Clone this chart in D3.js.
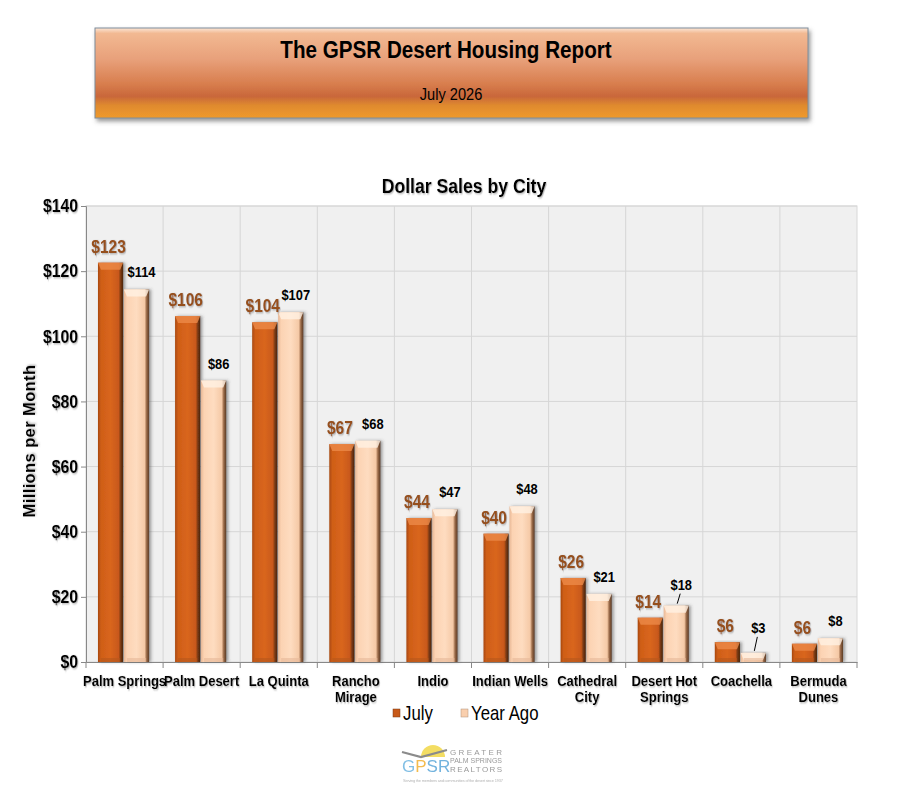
<!DOCTYPE html>
<html><head><meta charset="utf-8">
<script src="https://cdn.jsdelivr.net/npm/d3@7"></script>
<style>
html,body{margin:0;padding:0;background:#fff;}
svg{display:block;}
text{font-family:"Liberation Sans Narrow","Arial Narrow","Liberation Sans",Arial,sans-serif;font-weight:bold;}
</style></head>
<body>
<script>
const cities = ["Palm Springs","Palm Desert","La Quinta","Rancho Mirage","Indio","Indian Wells","Cathedral City","Desert Hot Springs","Coachella","Bermuda Dunes"];
const cityLines = [["Palm Springs"],["Palm Desert"],["La Quinta"],["Rancho","Mirage"],["Indio"],["Indian Wells"],["Cathedral","City"],["Desert Hot","Springs"],["Coachella"],["Bermuda","Dunes"]];
const julyValues = [122.6,106.2,104.3,66.9,44.2,39.4,25.8,13.6,6.1,5.6];
const yearAgoValues = [114.4,86.4,107.4,67.9,46.9,47.8,20.9,17.3,2.8,7.3];
const julyLabels = ["$123","$106","$104","$67","$44","$40","$26","$14","$6","$6"];
const yearAgoLabels = ["$114","$86","$107","$68","$47","$48","$21","$18","$3","$8"];
const yTicks = [0,20,40,60,80,100,120,140];
const seriesNames = ["July","Year Ago"];
const leaderLift = {"Desert Hot Springs":4,"Coachella":8};

const W=898,H=801;
const svg=d3.select("body").append("svg").attr("width",W).attr("height",H);
const defs=svg.append("defs");

// narrow text helper (condensed look via horizontal scale)
function ntext(parent,x,y,sx){
  return parent.append("g").attr("transform",`translate(${x},${y}) scale(${sx},1)`).append("text").attr("x",0).attr("y",0);
}

// header gradient
const hg=defs.append("linearGradient").attr("id","hdr").attr("x1",0).attr("y1",0).attr("x2",0).attr("y2",1);
[[0,"#fbe6d6"],[0.06,"#f2b992"],[0.35,"#e8a07a"],[0.62,"#d87e4e"],[0.76,"#c9673a"],[0.86,"#df8a2e"],[1,"#f09a2c"]].forEach(s=>hg.append("stop").attr("offset",s[0]).attr("stop-color",s[1]));
const hsh=defs.append("filter").attr("id","hshadow").attr("x","-5%").attr("y","-20%").attr("width","110%").attr("height","150%");
hsh.append("feDropShadow").attr("dx",2).attr("dy",3).attr("stdDeviation",2).attr("flood-color","#555").attr("flood-opacity",0.6);

// bar gradients
function hgrad(id,stops){const g=defs.append("linearGradient").attr("id",id).attr("x1",0).attr("y1",0).attr("x2",1).attr("y2",0);stops.forEach(s=>g.append("stop").attr("offset",s[0]).attr("stop-color",s[1]));}
hgrad("julyG",[[0,"#a8480e"],[0.12,"#cf5e18"],[0.5,"#d9661c"],[0.82,"#c8581a"],[0.9,"#7a3a14"],[1,"#4a240c"]]);
hgrad("yaG",[[0,"#e8b896"],[0.12,"#fcd3b3"],[0.5,"#fedcc0"],[0.82,"#f5c9a6"],[0.9,"#9a6a48"],[1,"#5a3a24"]]);
const bsh=defs.append("filter").attr("id","bshadow").attr("x","-20%").attr("y","-10%").attr("width","150%").attr("height","120%");
bsh.append("feDropShadow").attr("dx",2).attr("dy",0).attr("stdDeviation",1.5).attr("flood-color","#444").attr("flood-opacity",0.5);
const tsh=defs.append("filter").attr("id","tshadow").attr("x","-10%").attr("y","-10%").attr("width","130%").attr("height","140%");
tsh.append("feDropShadow").attr("dx",1).attr("dy",1).attr("stdDeviation",0.8).attr("flood-color","#666").attr("flood-opacity",0.55);

// header box
svg.append("rect").attr("x",95).attr("y",28).attr("width",713).attr("height",90).attr("fill","url(#hdr)").attr("stroke","#7f8c99").attr("stroke-width",1).attr("filter","url(#hshadow)");
ntext(svg,446,58,0.86).attr("text-anchor","middle").attr("font-size",24).attr("fill","#000").text("The GPSR Desert Housing Report");
ntext(svg,451,100,0.86).attr("text-anchor","middle").attr("font-size",17).style("font-weight","normal").attr("fill","#000").text("July 2026");

// chart
const m={l:86,r:857,t:206,b:662};
const x=d3.scaleBand().domain(cities).range([m.l,m.r]).paddingInner(0).paddingOuter(0);
const xs=d3.scaleBand().domain(seriesNames).range([0,x.bandwidth()]).paddingInner(0.03).paddingOuter(0.5);
const y=d3.scaleLinear().domain([0,140]).range([m.b,m.t]);

ntext(svg,464,193,0.84).attr("text-anchor","middle").attr("font-size",21).attr("fill","#000").attr("filter","url(#tshadow)").text("Dollar Sales by City");

svg.append("rect").attr("x",m.l).attr("y",m.t).attr("width",m.r-m.l).attr("height",m.b-m.t).attr("fill","#f0f0f0").attr("stroke","#d8d8d8");
// gridlines
svg.append("g").selectAll("line").data(yTicks.slice(1)).join("line")
 .attr("x1",m.l).attr("x2",m.r).attr("y1",d=>y(d)).attr("y2",d=>y(d)).attr("stroke","#d6d6d6");
svg.append("g").selectAll("line").data(cities.slice(1)).join("line")
 .attr("x1",d=>x(d)).attr("x2",d=>x(d)).attr("y1",m.t).attr("y2",m.b).attr("stroke","#d6d6d6");

// axes
const yAxis=svg.append("g").attr("transform",`translate(${m.l},0)`).call(d3.axisLeft(y).tickValues(yTicks).tickSize(5).tickFormat(d=>"$"+d));
yAxis.select(".domain").attr("stroke","#888");
yAxis.selectAll(".tick line").attr("stroke","#888");
yAxis.selectAll("text").attr("font-size",18).attr("fill","#000").attr("x",-9).attr("transform","scale(0.88,1)").attr("filter","url(#tshadow)");

const xAxis=svg.append("g").attr("transform",`translate(0,${m.b})`).call(d3.axisBottom(x).tickSize(0).tickFormat(""));
xAxis.select(".domain").attr("stroke","#888");
svg.append("g").selectAll("line").data(cities.concat(["__end"])).join("line")
 .attr("x1",(d,i)=>i<cities.length?x(d):m.r).attr("x2",(d,i)=>i<cities.length?x(d):m.r)
 .attr("y1",m.b).attr("y2",m.b+6).attr("stroke","#888");

// category labels
const cl=svg.append("g");
cities.forEach((c,i)=>{
  const t=ntext(cl,x(c)+x.bandwidth()/2,m.b+24,0.84).attr("text-anchor","middle").attr("font-size",15.5).attr("fill","#000").attr("filter","url(#tshadow)");
  cityLines[i].forEach((ln,j)=>t.append("tspan").attr("x",0).attr("dy",j?16:0).text(ln));
});

// bars
const data=cities.map((c,i)=>({c,v:[julyValues[i],yearAgoValues[i]],l:[julyLabels[i],yearAgoLabels[i]]}));
const grads=["url(#julyG)","url(#yaG)"];
const tops=["#ec8a48","#fff1e4"];
const bg=svg.append("g");
data.forEach(d=>{
  seriesNames.forEach((s,k)=>{
    const bx=x(d.c)+xs(s)-1, bw=xs.bandwidth(), by=y(d.v[k]), bh=m.b-by;
    const g=bg.append("g");
    g.append("rect").attr("x",bx).attr("y",by).attr("width",bw).attr("height",bh).attr("fill",grads[k]).attr("filter","url(#bshadow)");
    const cap=Math.min(7,bh);
    g.append("path").attr("d",`M${bx},${by}L${bx+bw},${by}L${bx+bw-3},${by+cap}L${bx+3},${by+cap}Z`).attr("fill",tops[k]).attr("opacity",0.8);
    if(bh>6) g.append("rect").attr("x",bx+3).attr("y",m.b-4).attr("width",bw-6).attr("height",4).attr("fill",k?"#e6b898":"#b5561a").attr("opacity",0.6);
  });
});

// labels
const lg=svg.append("g");
data.forEach(d=>{
  const bw=xs.bandwidth();
  const jx=x(d.c)+xs("July")+bw/2-3, jy=y(d.v[0])-10;
  ntext(lg,jx,jy,0.86).attr("text-anchor","middle").attr("font-size",18).attr("fill","#96501e").attr("filter","url(#tshadow)").text(d.l[0]);
  const lift=leaderLift[d.c]||0;
  const yx=x(d.c)+xs("Year Ago")+bw/2+4, yy=y(d.v[1])-12-lift;
  ntext(lg,yx,yy,0.86).attr("text-anchor","middle").attr("font-size",15).attr("fill","#000").text(d.l[1]);
  if(lift){
    lg.append("line").attr("x1",yx-1).attr("y1",yy+4).attr("x2",yx-4).attr("y2",y(d.v[1])-2).attr("stroke","#000").attr("stroke-width",1);
  }
});

// y axis title
svg.append("text").attr("transform","translate(35,441) rotate(-90)").attr("text-anchor","middle").attr("font-size",16.5)
 .style("font-family","'Liberation Sans',Arial,sans-serif").style("letter-spacing","0.4px").attr("fill","#000").attr("filter","url(#tshadow)").text("Millions per Month");

// legend
const legX=[393,461];
const legFill=["#c85a18","#f9cfae"];
seriesNames.forEach((s,k)=>{
  svg.append("rect").attr("x",legX[k]).attr("y",709).attr("width",7).attr("height",8).attr("fill",legFill[k]).attr("stroke",k?"#b0907a":"#7a3a14").attr("stroke-width",0.5);
  ntext(svg,legX[k]+10,720,0.84).attr("font-size",20).style("font-weight","normal").attr("fill","#000").text(s);
});

// logo
const logo=svg.append("g").attr("opacity",0.85);
logo.append("path").attr("d","M421,757 A12,12 0 0 1 445,757 Z").attr("fill","#f2d848");
logo.append("path").attr("d","M402,752 L421,757 L447,750").attr("fill","none").attr("stroke","#777").attr("stroke-width",2.2);
const gp=logo.append("text").attr("x",402).attr("y",772).attr("font-size",17).style("font-family","'Liberation Sans',Arial,sans-serif").style("font-weight","normal");
[["G","#6cb4e0"],["P","#f2b030"],["S","#5aa6d8"],["R","#5aa6d8"]].forEach(p=>gp.append("tspan").attr("fill",p[1]).text(p[0]));
[["GREATER",755,8],["PALM SPRINGS",763,7],["REALTORS",772,8]].forEach(t=>logo.append("text").attr("x",450).attr("y",t[1]).attr("font-size",t[2]).attr("fill","#888")
  .style("font-family","'Liberation Sans',Arial,sans-serif").style("font-weight","normal").attr("textLength",52).text(t[0]));
logo.append("text").attr("x",403).attr("y",782).attr("font-size",4).attr("fill","#aaa").style("font-weight","normal").attr("textLength",100).text("Serving the members and communities of the desert since 1937");
</script>
</body></html>
